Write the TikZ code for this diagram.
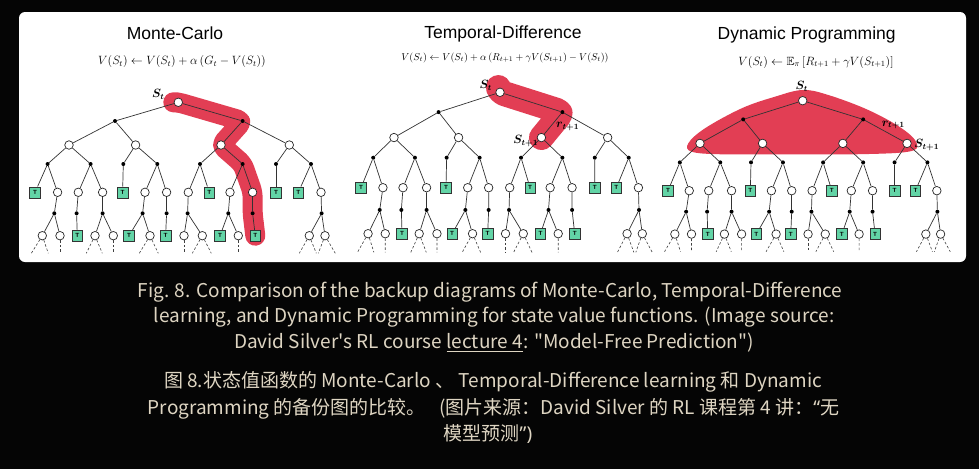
\documentclass[tikz,border=0pt]{standalone}
\usepackage{fontspec}
\usepackage{amssymb,bm}
\newfontfamily\capfont{Noto Sans CJK SC}
\newfontfamily\qfont{Noto Sans}
\newfontfamily\titfont{Liberation Sans}
\usetikzlibrary{calc}
\pgfdeclarelayer{bg}
\pgfdeclarelayer{hl}
\pgfsetlayers{bg,hl,main}
\definecolor{hlred}{RGB}{226,62,84}
\definecolor{tgreen}{RGB}{98,212,166}
\definecolor{capcol}{RGB}{222,213,194}
\definecolor{bgcol}{RGB}{5,5,5}
\tikzset{
  ed/.style={draw=black!80, line width=0.7pt},
  onode/.style={circle, draw=black!85, fill=white, line width=0.7pt, minimum size=8.5pt, inner sep=0pt},
  dnode/.style={circle, fill=black, minimum size=4pt, inner sep=0pt},
  tnode/.style={rectangle, draw=black!80, fill=tgreen, line width=0.6pt, minimum width=10.5pt, minimum height=11pt, inner sep=0pt, font=\fontsize{6}{6}\selectfont\bfseries\sffamily, text=black},
  dsh/.style={draw=black!75, line width=0.6pt, dash pattern=on 2.5pt off 2pt},
  hlline/.style={draw=hlred, line width=20pt, line cap=round, line join=round, rounded corners=5pt},
  ttl/.style={font=\titfont\fontsize{17.5}{20}\selectfont, text=black},
  fml/.style={text=black},
  lbl/.style={font=\fontsize{12}{14}\selectfont, text=black, inner sep=0pt},
  captxt/.style={font=\capfont\fontsize{19}{22}\selectfont, text=capcol, anchor=base, inner sep=0pt},
}
\newcommand\drawtree{%
  \node[onode] (r) at (0,0) {};
  \foreach \n/\x in {a1/-63.3, a2/64.3} \node[dnode] (\n) at (\x,18.7) {};
  \foreach \n/\x in {b1/-109.3, b2/-42.7, b3/42.7, b4/111} \node[onode] (\n) at (\x,42.7) {};
  \foreach \n/\x in {c1/-130.7, c2/-87.7, c3/-55, c4/-21, c5/21.7, c6/64.3, c7/97.7, c8/132.7} \node[dnode] (\n) at (\x,61.7) {};
  \foreach \n/\x in {d2/-120.7, d3/-100, d4/-75.7, d6/-33.3, d7/-11.7, d8/10, d10/51.7, d11/74.3, d14/142.7} \node[onode] (\n) at (\x,90) {};
  \foreach \n/\x in {d1/-143.3, d5/-55.7, d9/31, d12/97.7, d13/120} \node[tnode] (\n) at (\x,90) {T};
  \foreach \n/\x in {e1/-124, e2/-101.7, e3/-75.7, e4/-35.7, e5/-11.7, e6/9.3, e7/50, e8/74.3, e9/143.3} \node[dnode] (\n) at (\x,111) {};
  \foreach \n/\x in {f1/-136, f2/-118.3, f4/-83.3, f5/-65, f7/-28.3, f9/5.7, f10/24, f12/60, f14/131, f15/146.7} \node[onode] (\n) at (\x,133.4) {};
  \foreach \n/\x in {f3/-101, f6/-49.3, f8/-12.7, f11/41.7, f13/77} \node[tnode] (\n) at (\x,133.4) {T};
  \foreach \n/\x in {g1/-147, g2/-130, g3/-118.3, g4/-92, g5/-76, g6/-65, g7/-39, g8/-20, g9/5.7, g10/14, g11/33, g12/60, g13/121, g14/138, g15/140, g16/157} \coordinate (\n) at (\x,151);
  \foreach \p/\c in {r/a1, r/a2, a1/b1, a1/b2, a2/b3, a2/b4,
    b1/c1, b1/c2, b2/c3, b2/c4, b3/c5, b3/c6, b4/c7, b4/c8,
    c1/d1, c1/d2, c2/d3, c2/d4, c3/d5, c4/d6, c4/d7, c5/d8, c5/d9, c6/d10, c6/d11, c7/d12, c8/d13, c8/d14,
    d2/e1, d3/e2, d4/e3, d6/e4, d7/e5, d8/e6, d10/e7, d11/e8, d14/e9,
    e1/f1, e1/f2, e2/f3, e3/f4, e3/f5, e4/f6, e4/f7, e5/f8, e6/f9, e6/f10, e7/f11, e7/f12, e8/f13, e9/f14, e9/f15}
    \draw[ed] (\p) -- (\c);
  \foreach \p/\c in {f1/g1, f1/g2, f2/g3, f4/g4, f4/g5, f5/g6, f7/g7, f7/g8, f9/g9, f10/g10, f10/g11, f12/g12, f14/g13, f14/g14, f15/g15, f15/g16}
    \draw[dsh] (\p) -- (\c);
}
\begin{document}
\begin{tikzpicture}[x=1pt,y=-1pt]
\begin{pgfonlayer}{bg}
  \fill[bgcol] (0,0) rectangle (979,469);
  \fill[white, rounded corners=6pt] (19,12) rectangle (966,262);
\end{pgfonlayer}
\useasboundingbox (0,0) rectangle (979,469);

% titles and formulas
\node[ttl] (t1) at (175,33.3) {Monte-Carlo};
\node[ttl] (t2) at (503,34) {Temporal-Difference};
\node[ttl] (t3) at (806.7,35) {Dynamic Programming};
\node[fml, font=\fontsize{12.1}{14}\selectfont] (q1) at (182,61.7) {$V(S_t) \leftarrow V(S_t) + \alpha\,(G_t - V(S_t))$};
\node[fml, font=\fontsize{9.8}{12}\selectfont] (q2) at (505,57.7) {$V(S_t) \leftarrow V(S_t) + \alpha\,(R_{t+1} + \gamma V(S_{t+1}) - V(S_t))$};
\node[fml, font=\fontsize{11.9}{14}\selectfont] (q3) at (816,62) {$V(S_t) \leftarrow \mathbb{E}_\pi\,[R_{t+1} + \gamma V(S_{t+1})]$};

% trees
\begin{scope}[shift={(178.3,102.3)}, name prefix=mc-]
  \drawtree
\end{scope}
\begin{scope}[shift={(500,92.3)}, xscale=0.97, yscale=1.06, name prefix=td-]
  \drawtree
\end{scope}
\begin{scope}[shift={(802.7,100.7)}, xscale=0.94, name prefix=dp-]
  \drawtree
\end{scope}

% highlights
\begin{pgfonlayer}{hl}
  \draw[hlline] ($(mc-r.center)+(-1,0)$) -- (mc-r.center) -- (mc-a2.center) -- (mc-b3.center) -- (mc-c6.center) -- (mc-d11.center) -- (mc-e8.center) -- (mc-f13.center);
  \draw[hlline, line width=25pt] ($(td-r.center)+(-1,-3)$) -- (td-r.center) -- (td-a2.center) -- (td-b3.center);
  \fill[hlred] plot[smooth cycle, tension=0.6] coordinates {(802.7,90) (828.3,95) (868.3,110) (901.7,128.3) (916.7,143.3) (908.3,151.7) (855,154.3) (788.3,154.3) (721.7,154.3) (691.7,151.7) (688.3,143.3) (705,128.3) (741.7,108.3) (775,96.7)};
\end{pgfonlayer}

% labels
\node[lbl] (l1) at (158.3,94) {$\bm{S_t}$};
\node[lbl] (l2) at (485.7,85.7) {$\bm{S_t}$};
\node[lbl] (l3) at (567.7,126.7) {$\bm{r_{t+1}}$};
\node[lbl] (l4) at (525.7,141) {$\bm{S_{t+1}}$};
\node[lbl] (l5) at (801.7,86.7) {$\bm{S_t}$};
\node[lbl] (l6) at (893.3,125) {$\bm{r_{t+1}}$};
\node[lbl] (l7) at (926.7,145) {$\bm{S_{t+1}}$};

% caption
\node[captxt] (c1) at (490,297) {Fig. 8. Comparison of the backup diagrams of Monte-Carlo, Temporal-Difference};
\node[captxt] (c2) at (494,322) {learning, and Dynamic Programming for state value functions. (Image source:};
\node[captxt] (c3) at (494,348) {David Silver's RL course \underline{lecture 4}: "Model-Free Prediction")};
\node[captxt] (c4) at (493,387) {图 8.状态值函数的 Monte-Carlo 、 Temporal-Difference learning 和 Dynamic};
\node[captxt] (c5) at (493.5,414) {Programming 的备份图的比较。\hspace{0.7em}(图片来源：David Silver 的 RL 课程第 4 讲：{\qfont “}无};
\node[captxt] (c6) at (488,440) {模型预测{\qfont ”)}};
\end{tikzpicture}
\end{document}
